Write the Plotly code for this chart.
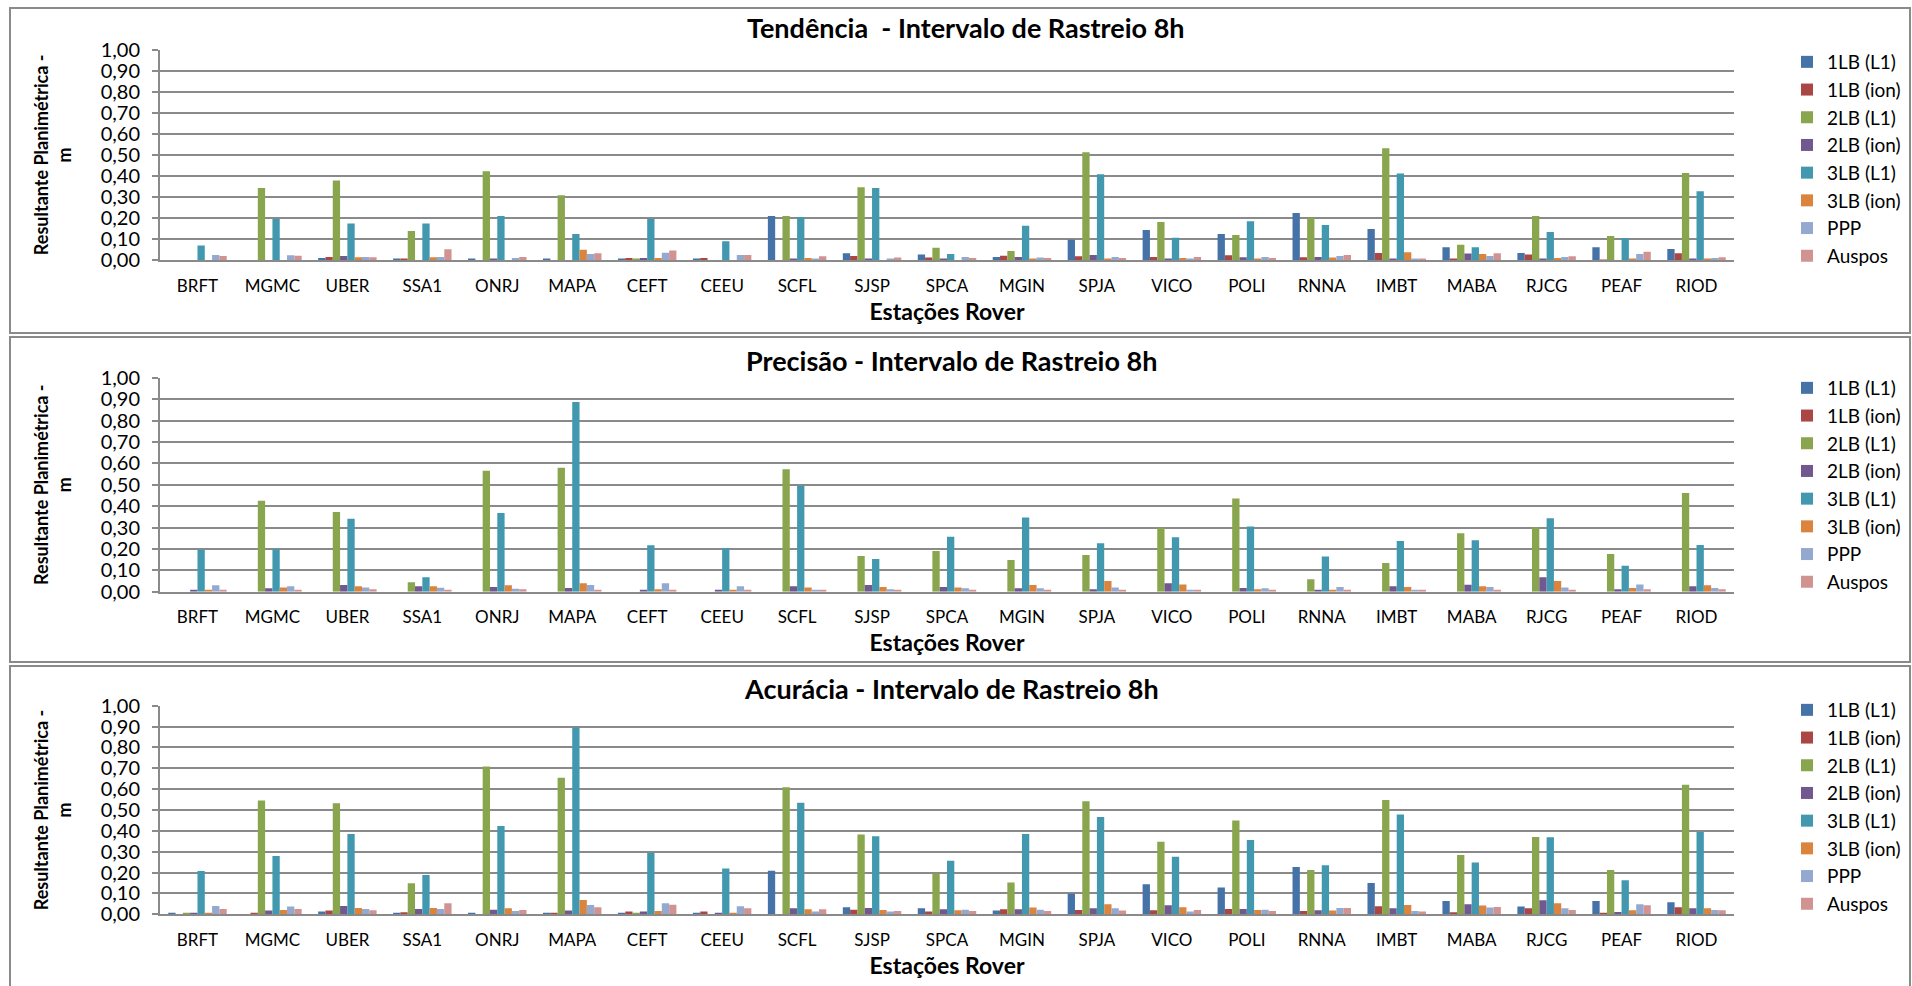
import plotly.graph_objects as go

W, H = 1912, 986

stations = ["BRFT", "MGMC", "UBER", "SSA1", "ONRJ", "MAPA", "CEFT", "CEEU", "SCFL", "SJSP",
            "SPCA", "MGIN", "SPJA", "VICO", "POLI", "RNNA", "IMBT", "MABA", "RJCG", "PEAF", "RIOD"]
series_names = ["1LB (L1)", "1LB (ion)", "2LB (L1)", "2LB (ion)", "3LB (L1)", "3LB (ion)", "PPP", "Auspos"]
colors = ["#4572A7", "#AA4643", "#89A54E", "#71588F", "#4198AF", "#DB843D", "#93A9CF", "#D19392"]
y_ticks = [0.0, 0.1, 0.2, 0.3, 0.4, 0.5, 0.6, 0.7, 0.8, 0.9, 1.0]

# ---- Tendência ----
tend_1lb_l1 = [0, 0, 0.011, 0.006, 0.005, 0.006, 0.006, 0.005, 0.21, 0.033, 0.027, 0.016, 0.098, 0.144, 0.125, 0.224, 0.148, 0.062, 0.035, 0.062, 0.054]
tend_1lb_ion = [0, 0, 0.016, 0.008, 0, 0, 0.011, 0.011, 0, 0.02, 0.013, 0.022, 0.019, 0.016, 0.024, 0.014, 0.035, 0.008, 0.028, 0.003, 0.033]
tend_2lb_l1 = [0, 0.343, 0.379, 0.139, 0.423, 0.308, 0.006, 0, 0.21, 0.346, 0.06, 0.044, 0.513, 0.182, 0.12, 0.202, 0.531, 0.074, 0.21, 0.115, 0.414]
tend_2lb_ion = [0, 0, 0.02, 0, 0.006, 0, 0.011, 0, 0.009, 0.005, 0.009, 0.016, 0.025, 0.009, 0.014, 0.016, 0.009, 0.032, 0.006, 0, 0.009]
tend_3lb_l1 = [0.07, 0.196, 0.175, 0.175, 0.21, 0.125, 0.197, 0.09, 0.205, 0.343, 0.03, 0.164, 0.408, 0.107, 0.185, 0.167, 0.412, 0.062, 0.134, 0.106, 0.327]
tend_3lb_ion = [0, 0, 0.014, 0.014, 0, 0.05, 0.011, 0, 0.011, 0, 0, 0.008, 0.005, 0.011, 0.009, 0.013, 0.038, 0.03, 0.011, 0.006, 0.005]
tend_ppp = [0.025, 0.024, 0.016, 0.016, 0.011, 0.03, 0.036, 0.025, 0.006, 0.008, 0.016, 0.013, 0.016, 0.006, 0.016, 0.02, 0.008, 0.02, 0.016, 0.03, 0.011]
tend_auspos = [0.02, 0.021, 0.014, 0.052, 0.016, 0.033, 0.046, 0.025, 0.019, 0.013, 0.011, 0.011, 0.011, 0.016, 0.011, 0.025, 0.006, 0.033, 0.019, 0.04, 0.014]

# ---- Precisão ----
prec_1lb_l1 = [0] * 21
prec_1lb_ion = [0] * 21
prec_2lb_l1 = [0, 0.425, 0.372, 0.044, 0.565, 0.579, 0, 0, 0.572, 0.167, 0.19, 0.148, 0.171, 0.299, 0.436, 0.058, 0.134, 0.273, 0.3, 0.176, 0.461]
prec_2lb_ion = [0.008, 0.016, 0.031, 0.026, 0.022, 0.017, 0.006, 0.008, 0.026, 0.031, 0.022, 0.016, 0.011, 0.04, 0.017, 0.008, 0.025, 0.033, 0.067, 0.012, 0.026]
prec_3lb_l1 = [0.196, 0.198, 0.341, 0.067, 0.368, 0.886, 0.217, 0.203, 0.495, 0.153, 0.257, 0.347, 0.226, 0.255, 0.305, 0.164, 0.237, 0.24, 0.343, 0.121, 0.218]
prec_3lb_ion = [0.008, 0.02, 0.026, 0.026, 0.03, 0.04, 0.012, 0.006, 0.02, 0.022, 0.02, 0.031, 0.05, 0.034, 0.012, 0.008, 0.022, 0.026, 0.05, 0.017, 0.03]
prec_ppp = [0.03, 0.025, 0.02, 0.019, 0.014, 0.031, 0.039, 0.026, 0.009, 0.012, 0.016, 0.016, 0.02, 0.008, 0.016, 0.022, 0.009, 0.022, 0.02, 0.034, 0.017]
prec_auspos = [0.009, 0.009, 0.011, 0.009, 0.011, 0.008, 0.008, 0.008, 0.009, 0.009, 0.009, 0.009, 0.009, 0.009, 0.009, 0.008, 0.009, 0.009, 0.009, 0.012, 0.012]

# ---- Acurácia ----
acur_1lb_l1 = [0.003, 0, 0.013, 0.006, 0.005, 0.005, 0.005, 0.006, 0.209, 0.034, 0.029, 0.018, 0.099, 0.144, 0.128, 0.227, 0.15, 0.064, 0.037, 0.064, 0.058]
acur_1lb_ion = [0, 0.003, 0.018, 0.01, 0, 0.003, 0.013, 0.013, 0, 0.022, 0.014, 0.024, 0.021, 0.019, 0.026, 0.016, 0.038, 0.01, 0.029, 0.005, 0.034]
acur_2lb_l1 = [0.003, 0.546, 0.532, 0.149, 0.708, 0.655, 0.006, 0, 0.609, 0.383, 0.196, 0.153, 0.542, 0.348, 0.45, 0.212, 0.548, 0.284, 0.371, 0.212, 0.621]
acur_2lb_ion = [0.005, 0.018, 0.04, 0.026, 0.022, 0.018, 0.014, 0.008, 0.029, 0.03, 0.024, 0.024, 0.029, 0.043, 0.026, 0.019, 0.029, 0.048, 0.067, 0.011, 0.029]
acur_3lb_l1 = [0.208, 0.28, 0.385, 0.188, 0.423, 0.896, 0.294, 0.22, 0.535, 0.374, 0.257, 0.385, 0.466, 0.276, 0.356, 0.235, 0.478, 0.248, 0.369, 0.163, 0.395]
acur_3lb_ion = [0.005, 0.021, 0.03, 0.03, 0.029, 0.069, 0.016, 0.006, 0.024, 0.021, 0.019, 0.032, 0.048, 0.034, 0.021, 0.018, 0.045, 0.042, 0.053, 0.019, 0.029]
acur_ppp = [0.04, 0.037, 0.026, 0.026, 0.016, 0.045, 0.053, 0.038, 0.013, 0.014, 0.022, 0.022, 0.029, 0.013, 0.022, 0.03, 0.016, 0.032, 0.029, 0.048, 0.021]
acur_auspos = [0.026, 0.026, 0.019, 0.053, 0.021, 0.034, 0.046, 0.029, 0.024, 0.016, 0.016, 0.016, 0.018, 0.021, 0.016, 0.03, 0.013, 0.035, 0.021, 0.043, 0.019]

panel_titles = ["Tendência \u00a0- Intervalo de Rastreio 8h",
                "Precisão - Intervalo de Rastreio 8h",
                "Acurácia - Intervalo de Rastreio 8h"]
panel_data = [
    [tend_1lb_l1, tend_1lb_ion, tend_2lb_l1, tend_2lb_ion, tend_3lb_l1, tend_3lb_ion, tend_ppp, tend_auspos],
    [prec_1lb_l1, prec_1lb_ion, prec_2lb_l1, prec_2lb_ion, prec_3lb_l1, prec_3lb_ion, prec_ppp, prec_auspos],
    [acur_1lb_l1, acur_1lb_ion, acur_2lb_l1, acur_2lb_ion, acur_3lb_l1, acur_3lb_ion, acur_ppp, acur_auspos],
]
x_title = "Estações Rover"
y_title = "Resultante Planimétrica -<br>m"

FONT = "Lato, 'Open Sans', sans-serif"
GRID = "#8a8a8a"

def px_x(p):
    return p / W

def px_y(p):
    return 1 - p / H

# pixel geometry of each panel: (plot top, plot bottom, box top, box bottom, title x, title y, legend top)
geo = [
    (49.5, 260.3, 8, 333, 966, 27, 43),
    (377.7, 591.7, 337, 662, 951, 360, 369),
    (705.7, 914.3, 666, 990, 951, 688, 691),
]
plot_left, plot_right = 160, 1734

fig = go.Figure()
for p in range(3):
    sfx = "" if p == 0 else str(p + 1)
    leg = "legend" if p == 0 else "legend" + str(p + 1)
    for s in range(8):
        fig.add_trace(go.Bar(
            x=stations, y=panel_data[p][s], name=series_names[s],
            marker=dict(color=colors[s], line=dict(width=0)),
            xaxis="x" + sfx, yaxis="y" + sfx, legend=leg,
            legendgroup=f"p{p}s{s}",
        ))

layout = dict(
    template="none",
    width=W, height=H,
    margin=dict(l=0, r=0, t=0, b=0, autoexpand=False),
    paper_bgcolor="white", plot_bgcolor="white",
    barmode="group", bargap=0.22, bargroupgap=0,
    separators=",.",
    font=dict(family=FONT, size=17, color="black"),
    showlegend=True,
)
shapes = []
annotations = []
for p in range(3):
    sfx = "" if p == 0 else str(p + 1)
    top, bot, btop, bbot, tx, ty, ltop = geo[p]
    layout["xaxis" + sfx] = dict(
        domain=[px_x(plot_left), px_x(plot_right)],
        anchor="y" + sfx, automargin=False,
        showline=True, linecolor=GRID, linewidth=2,
        ticks="", showgrid=False, zeroline=False,
        tickfont=dict(size=17, family=FONT, color="black"),
        ticklabelstandoff=9,
        title=dict(text=x_title, font=dict(size=23, family=FONT, weight="bold", color="black"), standoff=9),
        fixedrange=True,
    )
    layout["yaxis" + sfx] = dict(
        domain=[px_y(bot), px_y(top)],
        anchor="x" + sfx, automargin=False,
        range=[0, 1.0], tickvals=y_ticks, tickformat=".2f",
        showline=True, linecolor=GRID, linewidth=2,
        showgrid=True, gridcolor=GRID, gridwidth=2,
        ticks="outside", ticklen=6, tickcolor=GRID, tickwidth=2,
        tickfont=dict(size=20, family=FONT, color="black"),
        ticklabelstandoff=8,
        title=dict(text=y_title, font=dict(size=18, family=FONT, weight="bold", color="black"), standoff=24),
        zeroline=False, fixedrange=True,
    )
    leg = "legend" if p == 0 else "legend" + str(p + 1)
    layout[leg] = dict(
        x=px_x(1787), y=px_y(ltop), xanchor="left", yanchor="top",
        font=dict(size=19, family=FONT, color="black"), bgcolor="rgba(0,0,0,0)",
        borderwidth=0, tracegroupgap=0, itemclick=False, itemdoubleclick=False,
    )
    shapes.append(dict(type="rect", xref="paper", yref="paper",
                       x0=px_x(10), x1=px_x(1910), y0=px_y(bbot), y1=px_y(btop),
                       line=dict(color="#8a8a8a", width=2), fillcolor="rgba(0,0,0,0)", layer="below"))
    annotations.append(dict(text=panel_titles[p], xref="paper", yref="paper",
                            x=px_x(tx), y=px_y(ty),
                            xanchor="center", yanchor="middle", showarrow=False,
                            font=dict(size=27, family=FONT, weight="bold", color="black")))
layout["shapes"] = shapes
layout["annotations"] = annotations
fig.update_layout(**layout)

fig.write_html("out.html", config={"displayModeBar": False},
               post_script="document.body.style.margin='0';document.body.style.overflow='hidden';")
